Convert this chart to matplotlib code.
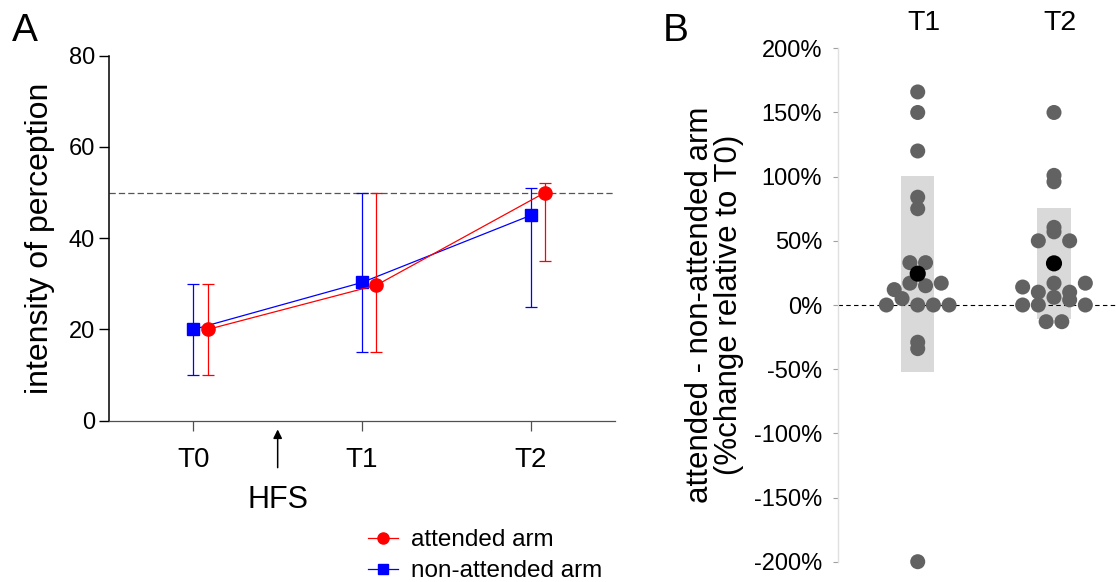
import numpy as np
import matplotlib
matplotlib.use("Agg")
import matplotlib.pyplot as plt
from matplotlib.lines import Line2D
from matplotlib.ticker import FuncFormatter

plt.rcParams['font.family'] = ['Liberation Sans', 'DejaVu Sans']

# ---- panel A data
times = ['T0', 'T1', 'T2']
att_mean = [20, 29.7, 50]
att_low = [10, 15, 35]
att_high = [30, 50, 52]
non_mean = [20, 30.3, 45]
non_low = [10, 15, 25]
non_high = [30, 50, 51]
ref_level = 50

# ---- panel B data (% change, attended - non-attended)
groups = ['T1', 'T2']
diff_t1 = [166, 150, 120, 84, 75, 33, 33, 12, 17, 15, 17, 0, 5, 0, 0, 0, -29, -34, -200]
diff_t2 = [150, 101, 96, 60.5, 50, 57, 50, 14, 10, 17, 10, 17, 0, 0, 6, 4, 0, -13, -13]


def swarm(vals, binw=10, step=0.115):
    # rows of points with similar values, spread symmetrically
    vals = np.asarray(vals, dtype=float)
    bins = np.floor(vals / binw)
    off = np.zeros(len(vals))
    for b in np.unique(bins):
        idx = np.where(bins == b)[0]
        n = len(idx)
        off[idx] = (np.arange(n) - (n - 1) / 2) * step
    return off


fig = plt.figure(figsize=(11.16, 5.82), dpi=100)

# ================= panel A
ax = fig.add_axes([109 / 1116, 1 - 420.7 / 582, 506 / 1116, 365 / 582])
x = np.arange(len(times))
xr = x + 0.085

am = np.array(att_mean)
nm = np.array(non_mean)
ax.errorbar(x, nm, yerr=[nm - np.array(non_low), np.array(non_high) - nm],
            color='#0000ff', marker='s', ms=9, lw=0.9, elinewidth=0.9,
            capsize=4.3, capthick=0.9, zorder=3)
ax.errorbar(xr, am, yerr=[am - np.array(att_low), np.array(att_high) - am],
            color='#ff0000', marker='o', ms=9.5, lw=0.9, elinewidth=0.9,
            capsize=4.3, capthick=0.9, zorder=4)
ax.axhline(ref_level, color='#555555', lw=0.9, ls=(0, (5, 2.5)), zorder=1)

ax.set_xlim(-0.5, 2.5)
ax.set_ylim(0, 80)
ax.set_yticks([0, 20, 40, 60, 80])
ax.set_xticks(x)
ax.set_xticklabels(times, fontsize=20)
ax.tick_params(axis='y', labelsize=17, length=7, width=1, pad=3)
ax.tick_params(axis='x', length=7, width=0.9, color='#505050', pad=12)
for s in ['top', 'right']:
    ax.spines[s].set_visible(False)
ax.spines['left'].set_linewidth(1.1)
ax.spines['bottom'].set_linewidth(0.9)
ax.spines['bottom'].set_color('#505050')
ax.set_ylabel('intensity of perception', fontsize=23, labelpad=10)

ax.annotate('', xy=(0.5, -1.3), xytext=(0.5, -10.9),
            arrowprops=dict(arrowstyle='-|>', color='black', lw=1.1, mutation_scale=13),
            annotation_clip=False)
ax.text(0.5, -17.3, 'HFS', ha='center', va='center', fontsize=22, clip_on=False)

handles = [Line2D([], [], color='#ff0000', marker='o', ms=8, lw=0.9),
           Line2D([], [], color='#0000ff', marker='s', ms=7.5, lw=0.9)]
fig.legend(handles, ['attended arm', 'non-attended arm'], loc='upper left',
           bbox_to_anchor=(368 / 1116, 1 - 529 / 582), frameon=False,
           fontsize=17.5, handlelength=1.25, handletextpad=0.5,
           labelspacing=0.38, borderpad=0, borderaxespad=0)

fig.text(12 / 1116, 1 - 31 / 582, 'A', fontsize=28, va='center', ha='left')

# ================= panel B
bx = fig.add_axes([838 / 1116, 1 - 561.7 / 582, 278 / 1116, 513.4 / 582])
for i, (g, d) in enumerate(zip(groups, [diff_t1, diff_t2])):
    pos = i + 1
    d = np.asarray(d, dtype=float)
    m = d.mean()
    sd = d.std()
    bx.bar(pos, 2 * sd, bottom=m - sd, width=0.245, color='#d9d9d9', zorder=1)
    bx.scatter(pos + swarm(d), d, s=117, color='#626262', edgecolors='none',
               zorder=3, clip_on=False)
    bx.scatter([pos], [m], s=135, color='black', edgecolors='none', zorder=4)
    bx.text(pos + 0.045, 220, g, ha='center', va='center', fontsize=20.5, clip_on=False)

bx.axhline(0, color='black', lw=0.8, ls=(0, (4, 3)), zorder=2)
bx.set_xlim(0.415, 2.455)
bx.set_ylim(-200, 200)
bx.set_yticks(np.arange(-200, 201, 50))
bx.yaxis.set_major_formatter(FuncFormatter(lambda v, p: '%d%%' % v))
bx.set_xticks([])
bx.tick_params(axis='y', labelsize=17, length=3.5, width=0.8, color='#a0a0a0', pad=8)
for s in ['top', 'right', 'bottom']:
    bx.spines[s].set_visible(False)
bx.spines['left'].set_color('#e0e0e0')
bx.spines['left'].set_linewidth(1)
bx.set_ylabel('attended - non-attended arm\n(%change relative to T0)',
              fontsize=22.5, labelpad=7, linespacing=0.95)

fig.text(663 / 1116, 1 - 31 / 582, 'B', fontsize=28, va='center', ha='left')

fig.savefig('out.png', dpi=100)
